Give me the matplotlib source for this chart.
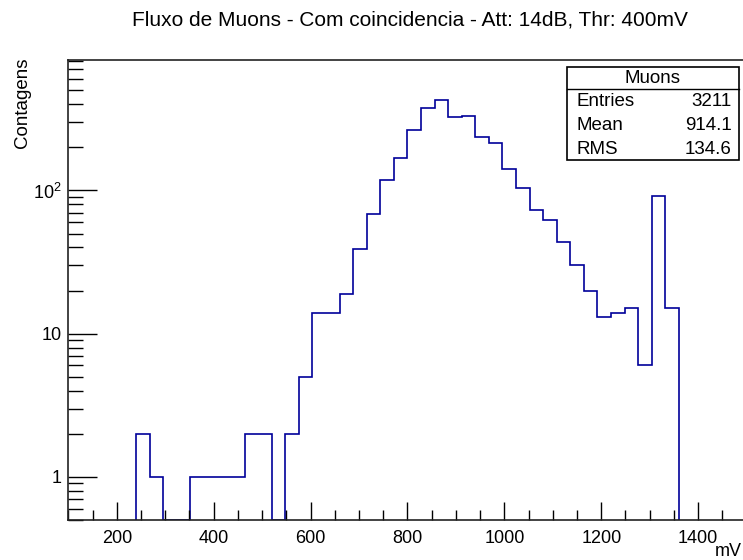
import numpy as np
import matplotlib
matplotlib.use("Agg")
import matplotlib.pyplot as plt
from matplotlib.ticker import FixedLocator, FixedFormatter, LogLocator, NullFormatter, MultipleLocator

plt.rcParams["font.family"] = ["Liberation Sans", "DejaVu Sans"]
plt.rcParams["mathtext.fontset"] = "custom"
plt.rcParams["mathtext.rm"] = "Liberation Sans"

# histogram definition: 50 bins of 28 mV from 100 to 1500 mV
x_min, x_max, n_bins = 100, 1500, 50
first_filled_edge = 240
counts = [2, 1, 0, 0, 1, 1, 1, 1, 2, 2,
          0, 2, 5, 14, 14, 19, 39, 69, 119, 168,
          264, 377, 426, 327, 331, 237, 215, 141, 104, 73,
          62, 44, 30, 20, 13, 14, 15, 6, 92, 15]

stats_name = "Muons"
stats_rows = [("Entries", "3211"), ("Mean", "914.1"), ("RMS", "134.6")]

title = "Fluxo de Muons - Com coincidencia - Att: 14dB, Thr: 400mV"
y_title = "Contagens"
x_title = "mV"

y_lo, y_hi = 0.5, 815
line_color = "#000099"

bin_w = (x_max - x_min) / n_bins
counts = np.array(counts, dtype=float)
edges = first_filled_edge + bin_w * np.arange(len(counts) + 1)
drawn = np.where(counts > 0, counts, y_lo)

W, H = 743, 560
fig = plt.figure(figsize=(W / 100, H / 100), dpi=100)
ax = fig.add_axes([68.3 / W, 1 - 520 / H, (746.6 - 68.3) / W, (520 - 60) / H])

ax.stairs(drawn, edges, baseline=y_lo, color=line_color, linewidth=1.2)

ax.set_yscale("log")
ax.set_xlim(x_min, x_max)
ax.set_ylim(y_lo, y_hi)

ax.xaxis.set_major_locator(MultipleLocator(200))
ax.xaxis.set_minor_locator(MultipleLocator(50))
ax.yaxis.set_major_locator(FixedLocator([1, 10, 100]))
ax.yaxis.set_major_formatter(FixedFormatter(["1", "10", r"$\mathregular{10^{2}}$"]))
ax.yaxis.set_minor_locator(LogLocator(base=10, subs=np.arange(2, 10)))
ax.yaxis.set_minor_formatter(NullFormatter())

ax.tick_params(axis="x", which="major", direction="in", length=13, width=1.0, labelsize=13, pad=7, top=False)
ax.tick_params(axis="x", which="minor", direction="in", length=7, width=1.0, top=False)
ax.tick_params(axis="y", which="major", direction="in", length=21, width=1.0, labelsize=13, pad=5, right=False)
ax.tick_params(axis="y", which="minor", direction="in", length=11, width=1.0, right=False)
for s in ax.spines.values():
    s.set_linewidth(1.2)
    s.set_color("#222222")

fig.text(410 / W, 1 - 20 / H, title, ha="center", va="center", fontsize=15)
fig.text(23 / W, 1 - 58 / H, y_title, rotation=90, ha="center", va="top", fontsize=13.5)
fig.text(742 / W, 1 - 551 / H, x_title, ha="right", va="center", fontsize=13)

# stats box in the top right corner
bx0, bx1, by0, by1 = 567, 739, 67, 160
head_h = 22
fig.patches.append(plt.Rectangle((bx0 / W, 1 - by1 / H), (bx1 - bx0) / W, (by1 - by0) / H,
                                 transform=fig.transFigure, facecolor="white", edgecolor="black", linewidth=1.2))
fig.add_artist(plt.Line2D([bx0 / W, bx1 / W], [1 - (by0 + head_h) / H] * 2,
                          transform=fig.transFigure, color="black", linewidth=1.0))
fig.text((bx0 + bx1) / 2 / W, 1 - (by0 + head_h / 2 + 1) / H, stats_name, ha="center", va="center", fontsize=13.5)
row_h = (by1 - by0 - head_h) / len(stats_rows)
for i, (name, val) in enumerate(stats_rows):
    yc = 1 - (by0 + head_h + row_h * (i + 0.5) + 1) / H
    fig.text(577 / W, yc, name, ha="left", va="center", fontsize=13.5)
    fig.text(732 / W, yc, val, ha="right", va="center", fontsize=13.5)

fig.savefig("out.png", dpi=100)
